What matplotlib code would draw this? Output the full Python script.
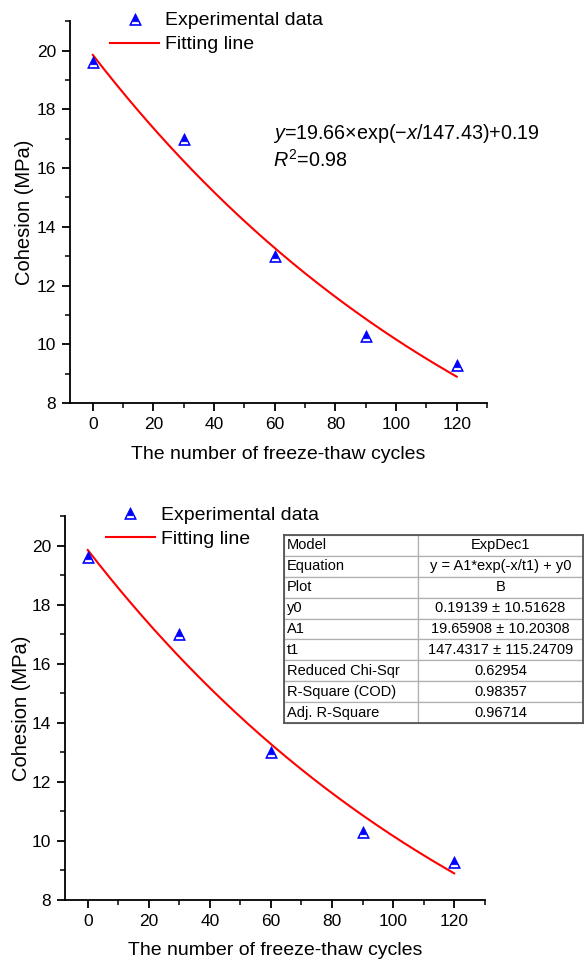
import numpy as np
import matplotlib
matplotlib.use("Agg")
import matplotlib.pyplot as plt
from matplotlib.path import Path
from matplotlib.ticker import MultipleLocator

plt.rcParams["font.family"] = ["Liberation Sans", "DejaVu Sans"]
plt.rcParams["mathtext.fontset"] = "custom"
plt.rcParams["mathtext.rm"] = "Liberation Sans"
plt.rcParams["mathtext.it"] = "Liberation Sans:italic"

# ── data ─────────────────────────────────────
cycles = [0, 30, 60, 90, 120]
cohesion = [19.6, 17.0, 13.0, 10.3, 9.3]

# ExpDec1 fit parameters (from the Origin report)
fit_y0 = 0.19139
fit_A1 = 19.65908
fit_t1 = 147.4317

table_labels = ["Model", "Equation", "Plot", "y0", "A1", "t1",
                "Reduced Chi-Sqr", "R-Square (COD)", "Adj. R-Square"]
table_values = ["ExpDec1", "y = A1*exp(-x/t1) + y0", "B",
                "0.19139 \u00b1 10.51628", "19.65908 \u00b1 10.20308",
                "147.4317 \u00b1 115.24709", "0.62954", "0.98357", "0.96714"]

fit_x = np.linspace(0, 120, 200)
fit_y = fit_A1 * np.exp(-fit_x / fit_t1) + fit_y0

BLUE = "#0000ff"
RED = "#ff0000"

# Origin-style triangle: solid with a white band near the base
tri_marker = Path(
    [(-1, -1), (1, -1), (0, 1), (-1, -1),
     (-0.76, -0.85), (-0.56, -0.38), (0.56, -0.38), (0.76, -0.85), (-0.76, -0.85)],
    [Path.MOVETO, Path.LINETO, Path.LINETO, Path.CLOSEPOLY,
     Path.MOVETO, Path.LINETO, Path.LINETO, Path.LINETO, Path.CLOSEPOLY])


def style_axes(ax, ylab_x, xlab_y):
    ax.set_xlim(-7.5, 130)
    ax.set_ylim(8, 21)
    ax.xaxis.set_major_locator(MultipleLocator(20))
    ax.xaxis.set_minor_locator(MultipleLocator(10))
    ax.yaxis.set_major_locator(MultipleLocator(2))
    ax.yaxis.set_minor_locator(MultipleLocator(1))
    for s in ("top", "right"):
        ax.spines[s].set_visible(False)
    for s in ("left", "bottom"):
        ax.spines[s].set_linewidth(1.3)
    ax.tick_params(which="major", direction="out", length=6, width=1.3,
                   labelsize=12.5, pad=4)
    ax.tick_params(which="minor", direction="out", length=3.5, width=1.1)
    ax.set_xlabel("The number of freeze-thaw cycles", fontsize=14)
    ax.xaxis.set_label_coords(0.5, xlab_y)
    ax.set_ylabel("Cohesion (MPa)", fontsize=14.5)
    ax.yaxis.set_label_coords(ylab_x, 0.5)


def draw_series(ax):
    ax.plot(cycles, cohesion, linestyle="none", marker=tri_marker, markersize=8.5,
            color=BLUE, markeredgewidth=0.5, label="Experimental data", zorder=3)
    ax.plot(fit_x, fit_y, color=RED, linewidth=1.5, label="Fitting line")


def add_legend(ax, x0):
    ax.legend(loc="upper left", bbox_to_anchor=(x0, 1.045), frameon=False,
              fontsize=14, handlelength=2.5, handletextpad=0.3, labelspacing=0.33,
              borderaxespad=0)


fig = plt.figure(figsize=(5.84, 9.6), dpi=100)

# ── top panel ────────────────────────────────
ax1 = fig.add_axes([0.120, 0.580, 0.714, 0.398])
draw_series(ax1)
style_axes(ax1, -0.086, -0.112)
add_legend(ax1, 0.078)
ax1.text(0.487, 0.706,
         r"$\it{y}$=19.66×exp(−$\it{x}$/147.43)+0.19",
         transform=ax1.transAxes, fontsize=14.2, va="center")
ax1.text(0.487, 0.637, r"$\it{R}^{2}$=0.98",
         transform=ax1.transAxes, fontsize=14.2, va="center")

# ── bottom panel ─────────────────────────────
ax2 = fig.add_axes([0.111, 0.0625, 0.719, 0.400])
draw_series(ax2)
style_axes(ax2, -0.081, -0.110)
add_legend(ax2, 0.080)

# fit report table
tax = fig.add_axes([284 / 584, 1 - 723 / 960, 299 / 584, 188 / 960])
tax.set_xticks([])
tax.set_yticks([])
for s in tax.spines.values():
    s.set_linewidth(1.3)
    s.set_color("#555555")
cells = [[l, v] for l, v in zip(table_labels, table_values)]
tbl = tax.table(cellText=cells, bbox=[0, 0, 1, 1], colWidths=[0.448, 0.552],
                cellLoc="center")
tbl.auto_set_font_size(False)
for (r, c), cell in tbl.get_celld().items():
    cell.set_edgecolor("#b0b0b0")
    cell.set_linewidth(0.9)
    cell.get_text().set_fontsize(10.5)
    if c == 0:
        cell.get_text().set_horizontalalignment("left")
        cell.PAD = 0.02

fig.savefig("out.png", dpi=100, facecolor="white")
